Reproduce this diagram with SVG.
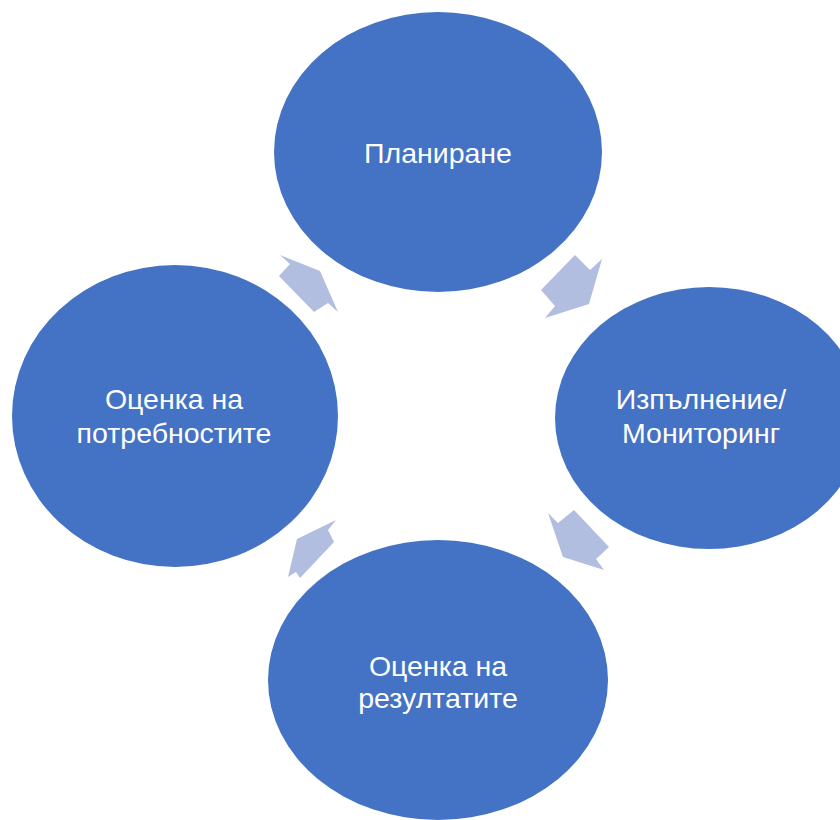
<svg xmlns="http://www.w3.org/2000/svg" width="840" height="820" viewBox="0 0 840 820">
<style>
.node{fill:#4472C4;}
.lbl{fill:#FFFFFF;font-family:"Liberation Sans","Noto Sans",Arial,sans-serif;font-size:28.5px;text-anchor:middle;}
.arr{fill:#B1BEE0;}
</style>
<rect width="840" height="820" fill="#FFFFFF"/>
<g id="connectors">
<polygon class="arr" points="575,255 590,270 602,259 589,304 545,318 555,306 541,290"/>
<polygon class="arr" points="548,513 558,523 574,510 609,547 596,559 604,570 563,557"/>
<polygon class="arr" points="336,520 297,539 288,577 296,572 300,578 334,542 328,530"/>
<polygon class="arr" points="280,255 320,271 338,312 328,303 314,312 279,276 290,264"/>
</g>
<g id="node-planirane">
<ellipse class="node" cx="438" cy="152" rx="164" ry="140"/>
<text class="lbl" x="438" y="163">Планиране</text>
</g>
<g id="node-izpalnenie">
<ellipse class="node" cx="709" cy="418" rx="154" ry="131"/>
<text class="lbl" x="701" y="409">Изпълнение/</text>
<text class="lbl" x="701" y="443">Мониторинг</text>
</g>
<g id="node-rezultati">
<ellipse class="node" cx="438" cy="680" rx="170" ry="140"/>
<text class="lbl" x="438" y="676">Оценка на</text>
<text class="lbl" x="438" y="708">резултатите</text>
</g>
<g id="node-potrebnosti">
<ellipse class="node" cx="175" cy="416" rx="163" ry="151"/>
<text class="lbl" x="174" y="409">Оценка на</text>
<text class="lbl" x="174" y="443">потребностите</text>
</g>
</svg>
